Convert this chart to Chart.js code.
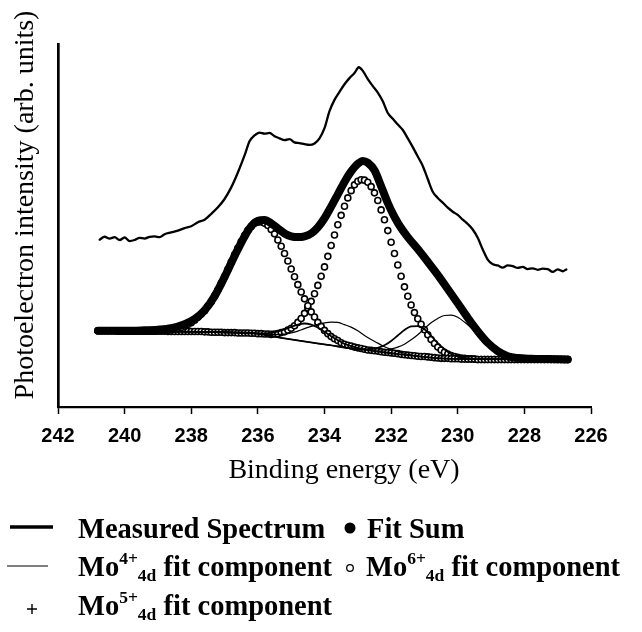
<!DOCTYPE html>
<html>
<head>
<meta charset="utf-8">
<script src="https://cdn.jsdelivr.net/npm/chart.js@4.4.1/dist/chart.umd.min.js"></script>
<style>
html,body{margin:0;padding:0;background:#fff;}
#c{display:block;width:642px;height:632px;}
</style>
</head>
<body>
<canvas id="c" width="642" height="632"></canvas>
<script>
// ---------- text ----------
const xTitle = 'Binding energy (eV)';
const yTitle = 'Photoelectron intensity (arb. units)';
const legendMeasured = 'Measured Spectrum';
const legendFit = 'Fit Sum';
const legendMo4 = [['Mo',0],['4+',1],['4d',-1],[' fit component',0]];
const legendMo6 = [['Mo',0],['6+',1],['4d',-1],[' fit component',0]];
const legendMo5 = [['Mo',0],['5+',1],['4d',-1],[' fit component',0]];
const xTickValues = [242, 240, 238, 236, 234, 232, 230, 228, 226];

// ---------- measured spectrum ----------
const measuredEnergy = [240.75,240.6,240.45,240.3,240.15,240.0,239.85,239.7,239.55,239.4,239.25,239.1,238.95,238.8,238.6,238.4,238.2,238.0,237.8,237.6,237.4,237.2,237.0,236.8,236.6,236.4,236.25,236.1,235.95,235.8,235.65,235.5,235.35,235.2,235.05,234.9,234.75,234.6,234.45,234.3,234.15,234.0,233.85,233.7,233.55,233.4,233.25,233.1,232.97,232.85,232.7,232.55,232.4,232.25,232.1,231.95,231.8,231.65,231.5,231.35,231.2,231.05,230.9,230.75,230.6,230.45,230.3,230.15,230.0,229.85,229.7,229.55,229.4,229.25,229.1,228.95,228.8,228.65,228.5,228.35,228.2,228.05,227.9,227.75,227.6,227.45,227.3,227.15,227.0,226.85,226.74];
const measuredCounts = [46.1,46.9,46.4,46.8,46.0,46.7,45.7,46.0,46.6,46.4,46.9,47.0,46.8,47.6,48.1,48.6,49.3,49.8,50.9,51.6,53.2,55.0,57.3,60.5,64.6,69.3,73.2,74.8,75.6,75.3,75.5,74.6,74.0,73.5,73.8,72.9,72.7,72.4,72.2,72.6,74.0,76.8,81.5,84.6,86.8,88.9,90.6,92.0,93.6,92.6,90.3,88.4,86.6,84.2,81.0,79.4,77.8,76.3,74.0,71.6,69.0,66.4,62.8,59.3,57.6,56.3,54.9,53.8,52.9,51.6,50.4,48.9,46.6,43.4,40.6,39.3,39.0,38.4,39.0,38.8,38.3,38.6,38.0,38.2,37.8,38.1,38.0,37.2,37.9,37.4,37.9];

// ---------- fit sum ----------
const fitEnergy = [240.8,240.0,239.5,239.0,238.6,238.2,237.9,237.6,237.3,237.0,236.7,236.4,236.2,236.0,235.8,235.6,235.4,235.2,235.0,234.8,234.6,234.4,234.2,234.0,233.8,233.6,233.4,233.2,233.0,232.85,232.7,232.5,232.3,232.1,231.9,231.7,231.5,231.2,230.9,230.6,230.3,230.0,229.7,229.4,229.1,228.8,228.5,228.2,227.8,227.3,226.7];
const fitSum = [21.0,21.0,21.1,21.3,21.7,22.8,24.2,26.6,30.5,35.8,41.6,47.0,49.8,51.3,51.5,50.6,49.2,47.8,47.0,46.8,47.0,47.8,49.5,52.0,55.2,58.6,62.0,64.9,67.0,67.8,67.3,65.2,60.8,56.2,52.4,49.3,46.8,43.5,40.0,36.4,32.5,28.6,24.6,20.9,17.7,15.4,14.0,13.5,13.3,13.2,13.1];

// ---------- Mo6+ component (open circles, doublet) ----------
const mo6Energy = [240.8,240.7,240.6,240.5,240.4,240.3,240.2,240.1,240.0,239.9,239.8,239.7,239.6,239.5,239.4,239.3,239.2,239.1,239.0,238.9,238.8,238.7,238.6,238.5,238.4,238.3,238.2,238.1,238.0,237.9,237.8,237.7,237.6,237.5,237.4,237.3,237.2,237.1,237.0,236.9,236.8,236.7,236.6,236.5,236.4,236.3,236.2,236.1,236.0,235.9,235.8,235.7,235.6,235.5,235.4,235.3,235.2,235.1,235.0,234.9,234.8,234.7,234.6,234.5,234.4,234.3,234.2,234.1,234.0,233.9,233.8,233.7,233.6,233.5,233.4,233.3,233.2,233.1,233.0,232.9,232.8,232.7,232.6,232.5,232.4,232.3,232.2,232.1,232.0,231.9,231.8,231.7,231.6,231.5,231.4,231.3,231.2,231.1,231.0,230.9,230.8,230.7,230.6,230.5,230.4,230.3,230.2,230.1,230.0,229.9,229.8,229.7,229.6,229.5,229.4,229.3,229.2,229.1,229.0,228.9,228.8,228.7,228.6,228.5,228.4,228.3,228.2,228.1,228.0,227.9,227.8,227.7,227.6,227.5,227.4,227.3,227.2,227.1,227.0,226.9,226.8,226.7];
const mo6PeakHighBE = [21.0,21.0,21.0,21.0,21.0,21.0,20.9,20.9,20.9,20.9,20.9,20.9,20.9,20.9,20.9,20.9,20.9,20.9,21.0,21.1,21.1,21.1,21.3,21.4,21.6,21.9,22.3,22.7,23.2,23.9,24.7,25.6,26.5,27.8,29.0,30.6,32.3,34.1,35.9,37.9,39.9,41.9,43.8,45.6,47.2,48.7,49.7,50.6,50.9,51.0,50.6,50.0,48.9,47.7,46.0,44.3,42.3,40.2,38.0,35.9,33.7,31.7,29.8,27.9,26.2,24.8,23.3,22.2,21.1,20.2,19.4,18.8,18.3,17.7,17.3,17.0,16.8,16.5,16.3,16.1,15.9,15.7,15.6,15.5,15.4,15.2,15.1,15.0,14.9,14.8,14.7,14.5,14.4,14.3,14.2,14.1,14.0,13.9,13.9,13.8,13.7,13.6,13.5,13.4,13.4,13.4,13.3,13.3,13.3,13.2,13.2,13.2,13.2,13.2,13.1,13.1,13.1,13.1,13.1,13.1,13.1,13.1,13.1,13.1,13.1,13.1,13.1,13.1,13.1,13.1,13.1,13.1,13.1,13.1,13.1,13.1,13.1,13.1,13.1,13.1,13.1,13.1];
const mo6PeakLowBE = [21.0,21.0,21.0,21.0,21.0,21.0,20.9,20.9,20.9,20.9,20.9,20.9,20.9,20.9,20.9,20.9,20.9,20.9,20.9,20.9,20.9,20.8,20.8,20.8,20.8,20.8,20.8,20.8,20.8,20.8,20.8,20.8,20.7,20.7,20.6,20.6,20.6,20.6,20.5,20.5,20.5,20.5,20.4,20.4,20.4,20.4,20.3,20.3,20.2,20.2,20.1,20.1,20.0,20.1,20.2,20.5,20.7,21.2,21.7,22.4,23.3,24.4,25.8,27.3,29.1,31.2,33.5,36.0,38.6,41.5,44.5,47.4,50.2,52.8,55.3,57.6,59.6,61.2,62.2,62.6,62.5,61.9,60.7,59.0,56.9,54.3,51.6,48.6,45.4,42.3,39.1,36.0,33.1,30.5,28.1,26.0,24.3,22.8,21.3,19.9,18.6,17.5,16.5,15.7,15.1,14.6,14.2,13.9,13.7,13.5,13.4,13.3,13.3,13.2,13.1,13.1,13.1,13.1,13.1,13.1,13.1,13.1,13.1,13.1,13.1,13.1,13.1,13.1,13.1,13.1,13.1,13.1,13.1,13.1,13.1,13.1,13.1,13.1,13.1,13.1,13.1,13.1];

// ---------- Mo4+ component (thin line, doublet) ----------
const mo4HighBEEnergy = [240.8,237.6,236.1,235.8,235.6,235.4,235.2,235.0,234.8,234.6,234.4,234.2,234.0,233.8,233.6,233.4,233.2,233.0,232.8,232.6,232.4,232.2,232.0,231.8,231.6,231.5,230.5,229.5,226.7];
const mo4HighBEValues = [21.0,20.7,20.4,20.1,20.0,20.0,20.1,20.4,20.9,21.6,22.2,22.8,23.2,23.4,23.3,22.7,22.0,21.0,19.7,18.6,17.6,16.6,15.9,15.3,14.8,14.5,13.4,13.2,13.1];
const mo4LowBEEnergy = [240.8,237.6,236.1,235.2,233.9,232.7,232.4,232.2,232.0,231.8,231.6,231.4,231.2,231.0,230.8,230.6,230.4,230.2,230.0,229.8,229.6,229.4,229.2,229.0,228.8,228.6,228.4,228.2,228.0,227.6,226.7];
const mo4LowBEValues = [21.0,20.7,20.3,18.9,17.1,15.7,15.7,15.7,16.0,16.5,17.3,18.5,19.9,21.6,23.2,24.4,25.2,25.3,24.7,23.4,21.8,19.9,18.2,16.6,15.4,14.5,13.9,13.6,13.3,13.1,13.1];

// ---------- Mo5+ component (+ marks, doublet) ----------
const mo5HighBEEnergy = [240.8,237.6,236.1,235.8,235.6,235.4,235.2,235.0,234.8,234.6,234.4,234.2,234.0,233.8,233.6,233.4,233.2,233.0,232.7,231.5,230.5,229.5,226.7];
const mo5HighBEValues = [21.0,20.7,20.3,20.3,20.4,20.8,21.4,22.1,22.7,23.0,22.7,21.9,20.7,19.5,18.4,17.4,16.8,16.3,15.7,14.3,13.4,13.2,13.1];
const mo5LowBEEnergy = [240.8,237.6,236.1,235.2,233.9,232.8,232.6,232.4,232.2,232.0,231.8,231.6,231.4,231.2,231.0,230.8,230.6,230.4,230.2,230.0,229.8,229.6,229.5,226.7];
const mo5LowBEValues = [21.0,20.7,20.3,18.9,17.1,15.9,16.0,16.3,17.0,18.2,19.7,21.2,22.2,22.3,21.4,19.6,17.6,15.9,14.6,13.9,13.5,13.3,13.2,13.1];

// ---------- build ----------
const pts = (xs, ys) => xs.map((x, i) => ({x: x, y: ys[i]}));
const SERIF = '"Liberation Serif", "Times New Roman", serif';
const SANS = '"Liberation Sans", Arial, sans-serif';

const lineDs = (label, data, width, order) => ({
  type: 'line', label, data, borderColor: '#000', borderWidth: width,
  pointRadius: 0, fill: false, cubicInterpolationMode: 'monotone', order,
  borderCapStyle: 'round', borderJoinStyle: 'round'
});
const circleDs = (label, data, order) => ({
  type: 'scatter', label, data, showLine: false, pointRadius: 3,
  pointBorderWidth: 1.6, pointBorderColor: '#000', pointBackgroundColor: '#fff', order
});

const textPlugin = {
  id: 'texts',
  afterDraw(chart) {
    const ctx = chart.ctx;
    ctx.save();
    ctx.fillStyle = '#000';
    ctx.strokeStyle = '#000';
    // axis titles
    ctx.font = '28px ' + SERIF;
    ctx.textAlign = 'center';
    ctx.textBaseline = 'alphabetic';
    ctx.fillText(xTitle, 344, 478);
    ctx.save();
    ctx.translate(33, 205);
    ctx.rotate(-Math.PI / 2);
    ctx.fillText(yTitle, 0, 0);
    ctx.restore();

    // legend
    const rich = (x, y, parts) => {
      ctx.textAlign = 'left';
      for (const [t, k] of parts) {
        if (k === 0) { ctx.font = 'bold 28.5px ' + SERIF; ctx.fillText(t, x, y); }
        else if (k === 1) { ctx.font = 'bold 17.5px ' + SERIF; ctx.fillText(t, x, y - 12); }
        else { ctx.font = 'bold 17.5px ' + SERIF; ctx.fillText(t, x, y + 5); }
        x += ctx.measureText(t).width;
      }
    };
    // row 1
    ctx.lineWidth = 3.5;
    ctx.beginPath(); ctx.moveTo(10, 527); ctx.lineTo(53, 527); ctx.stroke();
    rich(78, 538, [[legendMeasured, 0]]);
    ctx.beginPath(); ctx.arc(350, 528, 5.5, 0, Math.PI * 2); ctx.fill();
    rich(367, 538, [[legendFit, 0]]);
    // row 2
    ctx.lineWidth = 1.2;
    ctx.beginPath(); ctx.moveTo(7, 566); ctx.lineTo(48, 566); ctx.stroke();
    rich(78, 576, legendMo4);
    ctx.lineWidth = 1.3;
    ctx.beginPath(); ctx.arc(350, 568, 3.3, 0, Math.PI * 2); ctx.stroke();
    rich(366, 576, legendMo6);
    // row 3
    ctx.lineWidth = 1.4;
    ctx.beginPath();
    ctx.moveTo(27, 609); ctx.lineTo(37, 609);
    ctx.moveTo(32, 604); ctx.lineTo(32, 614);
    ctx.stroke();
    rich(78, 615, legendMo5);
    ctx.restore();
  }
};

new Chart(document.getElementById('c'), {
  type: 'line',
  data: {
    datasets: [
      lineDs('Measured Spectrum', pts(measuredEnergy, measuredCounts), 2.3, 0),
      lineDs('Fit Sum', pts(fitEnergy, fitSum), 8, 1),
      lineDs('Mo4+ 4d fit component', pts(mo4HighBEEnergy, mo4HighBEValues), 1.2, 2),
      lineDs('Mo4+ 4d fit component', pts(mo4LowBEEnergy, mo4LowBEValues), 1.2, 2),
      lineDs('Mo5+ 4d fit component', pts(mo5HighBEEnergy, mo5HighBEValues), 1.8, 2),
      lineDs('Mo5+ 4d fit component', pts(mo5LowBEEnergy, mo5LowBEValues), 1.8, 2),
      circleDs('Mo6+ 4d fit component', pts(mo6Energy, mo6PeakHighBE), 3),
      circleDs('Mo6+ 4d fit component', pts(mo6Energy, mo6PeakLowBE), 3)
    ]
  },
  options: {
    responsive: false,
    animation: false,
    devicePixelRatio: 1,
    layout: { padding: { left: 0, right: 51, top: 44, bottom: 175 } },
    plugins: { legend: { display: false }, tooltip: { enabled: false } },
    scales: {
      x: {
        type: 'linear', reverse: true, min: 226, max: 242,
        afterBuildTicks: s => { s.ticks = xTickValues.map(v => ({ value: v })); },
        afterFit: s => { s.height = 50; },
        ticks: { color: '#000', font: { family: SANS, size: 20, weight: 'bold' }, padding: 10, maxRotation: 0, autoSkip: false },
        grid: { display: true, drawOnChartArea: false, drawTicks: true, tickLength: 7, tickWidth: 1.5, tickColor: '#000', color: '#000' },
        border: { display: true, color: '#000', width: 2.2 }
      },
      y: {
        min: 0, max: 100,
        afterFit: s => { s.width = 58; },
        ticks: { display: false },
        grid: { display: false, drawTicks: false },
        border: { display: true, color: '#000', width: 2.7 }
      }
    }
  },
  plugins: [textPlugin]
});
</script>
</body>
</html>
